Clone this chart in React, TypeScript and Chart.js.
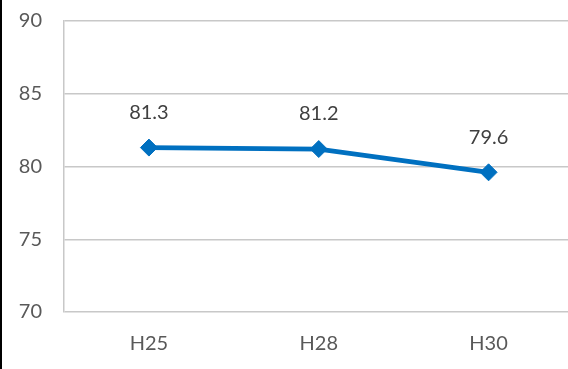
import React, { useEffect, useRef } from "react";
import { Chart, registerables } from "chart.js";

Chart.register(...registerables);

const categories = ["H25", "H28", "H30"];
const values = [81.3, 81.2, 79.6];
const yTicks = [70, 75, 80, 85, 90];

const FONT = "Lato, 'Noto Sans', sans-serif";

const dataLabelPlugin = {
  id: "dataLabels",
  afterDatasetsDraw(chart: any) {
    const ctx = chart.ctx;
    const meta = chart.getDatasetMeta(0);
    ctx.save();
    ctx.font = `20px ${FONT}`;
    ctx.fillStyle = "#404040";
    ctx.textAlign = "center";
    ctx.textBaseline = "middle";
    meta.data.forEach((pt: any, i: number) => {
      ctx.fillText(values[i].toFixed(1), pt.x, pt.y - 35);
    });
    ctx.restore();
  },
};

export default function App() {
  const ref = useRef<HTMLCanvasElement>(null);
  useEffect(() => {
    document.body.style.margin = "0";
    const chart = new Chart(ref.current!, {
      type: "line",
      data: {
        labels: categories,
        datasets: [
          {
            data: values,
            borderColor: "#0070C0",
            backgroundColor: "#0070C0",
            borderWidth: 4.8,
            pointStyle: "rectRot",
            pointRadius: 8.5,
            pointBorderWidth: 1,
            pointBackgroundColor: "#0070C0",
            pointBorderColor: "#0070C0",
            tension: 0,
          },
        ],
      },
      options: {
        animation: false,
        responsive: false,
        maintainAspectRatio: false,
        layout: { padding: { top: 21, right: 3, left: 0, bottom: 0 } },
        plugins: { legend: { display: false }, tooltip: { enabled: false } },
        scales: {
          x: {
            offset: true,
            grid: { display: false, drawTicks: false },
            border: { display: false },
            ticks: {
              color: "#595959",
              font: { family: FONT, size: 20 },
              padding: 20,
            },
            afterFit: (s: any) => {
              s.height = 57;
              s.paddingLeft = 0;
              s.paddingRight = 0;
            },
          },
          y: {
            min: 70,
            max: 90,
            afterBuildTicks: (s: any) => {
              s.ticks = yTicks.map((v) => ({ value: v }));
            },
            grid: { color: "#C8C8C8", lineWidth: 1.5, drawTicks: false },
            border: { display: true, color: "#C8C8C8", width: 1.5 },
            ticks: {
              color: "#595959",
              font: { family: FONT, size: 20 },
              padding: 22,
            },
            afterFit: (s: any) => {
              s.width = 62;
              s.paddingTop = 0;
              s.paddingBottom = 0;
            },
          },
        },
      },
      plugins: [dataLabelPlugin],
    });
    return () => chart.destroy();
  }, []);
  return (
    <div
      style={{
        width: 568,
        height: 369,
        overflow: "hidden",
        position: "relative",
        background: "#fff",
      }}
    >
      <div
        style={{
          position: "absolute",
          left: 0,
          top: 0,
          width: 2,
          height: 369,
          background: "#000",
          zIndex: 1,
        }}
      />
      <canvas
        ref={ref}
        width={581}
        height={369}
        style={{ position: "absolute", left: 2, top: 0, width: 581, height: 369 }}
      />
    </div>
  );
}
